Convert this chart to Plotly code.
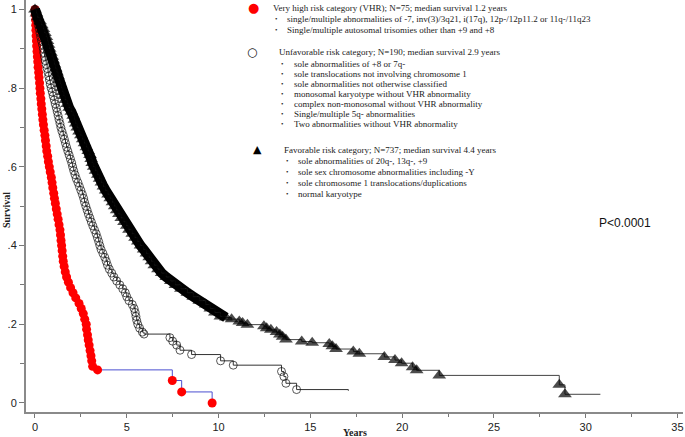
import plotly.graph_objects as go

# ---------------- data ----------------
# Very high risk (VHR), N=75
vhr_years = [0.0, 0.01, 0.03, 0.04, 0.05, 0.06, 0.08, 0.09, 0.11, 0.13, 0.15, 0.17, 0.20, 0.22, 0.25,
             0.27, 0.29, 0.32, 0.34, 0.37, 0.40, 0.43, 0.46, 0.50, 0.54, 0.57, 0.61, 0.64, 0.69, 0.73,
             0.78, 0.83, 0.89, 0.93, 0.97, 1.02, 1.06, 1.11, 1.16, 1.21, 1.26, 1.31, 1.36, 1.39, 1.42,
             1.45, 1.48, 1.51, 1.54, 1.59, 1.65, 1.72, 1.82, 1.94, 2.07, 2.22, 2.40, 2.52, 2.63, 2.71,
             2.79, 2.81, 2.86, 2.90, 2.95, 3.00, 3.05, 3.09, 3.14, 3.41, 7.48, 7.99, 9.65]
vhr_surv = [1.000, 0.987, 0.973, 0.960, 0.947, 0.933, 0.920, 0.907, 0.893, 0.880, 0.867, 0.853, 0.840,
            0.827, 0.813, 0.800, 0.787, 0.773, 0.760, 0.747, 0.733, 0.720, 0.707, 0.693, 0.680, 0.667,
            0.653, 0.640, 0.627, 0.613, 0.600, 0.587, 0.573, 0.560, 0.547, 0.533, 0.520, 0.507, 0.493,
            0.480, 0.467, 0.453, 0.440, 0.427, 0.413, 0.400, 0.387, 0.373, 0.360, 0.347, 0.333, 0.320,
            0.307, 0.293, 0.280, 0.267, 0.253, 0.240, 0.227, 0.213, 0.200, 0.187, 0.173, 0.160, 0.147,
            0.133, 0.120, 0.107, 0.093, 0.084, 0.057, 0.028, 0.000]

# Unfavorable, N=190
unf_years = [0.0, 0.05, 0.10, 0.14, 0.18, 0.23, 0.27, 0.31, 0.36, 0.41, 0.45, 0.48, 0.52, 0.56, 0.61,
             0.66, 0.71, 0.75, 0.79, 0.83, 0.88, 0.94, 0.99, 1.05, 1.10, 1.16, 1.21, 1.26, 1.31, 1.36,
             1.41, 1.47, 1.54, 1.60, 1.66, 1.72, 1.79, 1.86, 1.93, 2.00, 2.05, 2.11, 2.18, 2.25, 2.34,
             2.42, 2.50, 2.58, 2.65, 2.70, 2.77, 2.84, 2.91, 2.99, 3.07, 3.15, 3.24, 3.33, 3.40, 3.47,
             3.53, 3.60, 3.70, 3.80, 3.88, 3.95, 4.05, 4.18, 4.30, 4.45, 4.62, 4.78, 4.92, 5.00, 5.12,
             5.30, 5.40, 5.46, 5.50, 5.54, 5.60, 5.70, 5.85, 5.94,
             7.35, 7.50, 7.72, 7.90, 8.53, 10.11, 10.80, 13.43, 13.56, 13.67, 14.25, 17.07]
unf_surv = [1.00, 0.99, 0.98, 0.97, 0.96, 0.95, 0.94, 0.93, 0.92, 0.91, 0.90, 0.89, 0.88, 0.87, 0.86,
            0.85, 0.84, 0.83, 0.82, 0.81, 0.80, 0.79, 0.78, 0.77, 0.76, 0.75, 0.74, 0.73, 0.72, 0.71,
            0.70, 0.69, 0.68, 0.67, 0.66, 0.65, 0.64, 0.63, 0.62, 0.61, 0.60, 0.59, 0.58, 0.57, 0.56,
            0.55, 0.54, 0.53, 0.52, 0.51, 0.50, 0.49, 0.48, 0.47, 0.46, 0.45, 0.44, 0.43, 0.42, 0.41,
            0.40, 0.39, 0.38, 0.37, 0.36, 0.35, 0.34, 0.33, 0.32, 0.31, 0.30, 0.29, 0.28, 0.27, 0.26,
            0.25, 0.24, 0.23, 0.22, 0.21, 0.20, 0.19, 0.18, 0.175,
            0.166, 0.157, 0.147, 0.134, 0.123, 0.107, 0.096, 0.080, 0.067, 0.050, 0.034, 0.031]

# Favorable, N=737
fav_years = [0.0, 0.08, 0.15, 0.28, 0.37, 0.46, 0.54, 0.62, 0.68, 0.74, 0.80, 0.87, 0.94, 1.00, 1.06,
             1.13, 1.20, 1.26, 1.32, 1.39, 1.45, 1.52, 1.58, 1.65, 1.76, 1.86, 1.98, 2.08, 2.15, 2.22,
             2.30, 2.40, 2.50, 2.60, 2.70, 2.80, 2.90, 3.00, 3.06, 3.12, 3.20, 3.30, 3.42, 3.52, 3.62,
             3.73, 3.85, 3.98, 4.10, 4.22, 4.34, 4.45, 4.57, 4.70, 4.85, 5.00, 5.12, 5.30, 5.45, 5.60,
             5.75, 5.92, 6.07, 6.22, 6.35, 6.50, 6.70, 6.90, 7.15, 7.40, 7.65, 7.95, 8.30, 8.62, 8.95,
             9.30, 9.55, 9.80, 10.10, 10.40, 10.71, 11.13, 11.31, 11.57, 12.47, 12.62, 12.85, 13.16,
             13.34, 13.49, 13.67, 14.53, 15.10, 16.03, 16.20, 16.40, 17.34, 17.67, 19.03, 19.61, 19.97,
             20.57, 20.79, 22.02, 28.56, 28.87, 30.80]
fav_surv = [1.00, 0.99, 0.98, 0.97, 0.96, 0.95, 0.94, 0.93, 0.92, 0.91, 0.90, 0.89, 0.88, 0.87, 0.86,
            0.85, 0.84, 0.83, 0.82, 0.81, 0.80, 0.79, 0.78, 0.77, 0.76, 0.75, 0.74, 0.73, 0.72, 0.71,
            0.70, 0.69, 0.68, 0.67, 0.66, 0.65, 0.64, 0.63, 0.62, 0.61, 0.60, 0.59, 0.58, 0.57, 0.56,
            0.55, 0.54, 0.53, 0.52, 0.51, 0.50, 0.49, 0.48, 0.47, 0.46, 0.45, 0.44, 0.43, 0.42, 0.41,
            0.40, 0.39, 0.38, 0.37, 0.36, 0.35, 0.34, 0.33, 0.32, 0.31, 0.30, 0.29, 0.28, 0.27, 0.26,
            0.25, 0.24, 0.23, 0.22, 0.217, 0.213, 0.207, 0.203, 0.199, 0.195, 0.190, 0.186, 0.180,
            0.174, 0.168, 0.161, 0.156, 0.153, 0.150, 0.144, 0.137, 0.131, 0.125, 0.117, 0.109, 0.101,
            0.091, 0.083, 0.070, 0.046, 0.022, 0.022]

x_ticks = [0, 5, 10, 15, 20, 25, 30, 35]
y_tickvals = [0, 0.2, 0.4, 0.6, 0.8, 1.0]
y_ticktext = ["0", ".2", ".4", ".6", ".8", "1"]

vhr_title = "Very high risk category (VHR); N=75; median survival 1.2 years"
vhr_items = ["single/multiple abnormalities of -7, inv(3)/3q21, i(17q), 12p-/12p11.2 or 11q-/11q23",
             "Single/multiple autosomal trisomies other than +9 and +8"]
unf_title = "Unfavorable risk category; N=190; median survival 2.9 years"
unf_items = ["sole abnormalities of +8 or 7q-",
             "sole translocations not involving chromosome 1",
             "sole abnormalities not otherwise classified",
             "monosomal karyotype without VHR abnormality",
             "complex non-monosomal without VHR abnormality",
             "Single/multiple 5q- abnormalities",
             "Two abnormalities without VHR abnormality"]
fav_title = "Favorable risk category; N=737; median survival 4.4 years"
fav_items = ["sole abnormalities of 20q-, 13q-, +9",
             "sole sex chromosome abnormalities including -Y",
             "sole chromosome 1 translocations/duplications",
             "normal karyotype"]
p_text = "P<0.0001"

# ---------------- figure ----------------
W, H = 685, 437
ML, MR, MT, MB = 26, 2, 0, 25
PW, PH = W - ML - MR, H - MT - MB

def pxx(p):
    return (p - ML) / PW

def pxy(p):
    return (H - MB - p) / PH

fig = go.Figure()

fig.add_trace(go.Scatter(x=vhr_years, y=vhr_surv, mode="lines+markers", line_shape="hv",
                         line=dict(color="#4b4fd0", width=1),
                         marker=dict(symbol="circle", size=9, color="#ff0000", line=dict(width=0)),
                         showlegend=False))

unf_sizes = [8] * (len(unf_years) - 1) + [0]
fig.add_trace(go.Scatter(x=unf_years, y=unf_surv, mode="lines+markers", line_shape="hv",
                         line=dict(color="#333333", width=1),
                         marker=dict(symbol="circle-open", size=unf_sizes, color="#111111",
                                     line=dict(width=1, color="#111111")),
                         showlegend=False))

# dense part of the favourable curve: the overlapping triangles form a solid band
n_dense = fav_years.index(10.40) + 1
fig.add_trace(go.Scatter(x=fav_years[:n_dense], y=fav_surv[:n_dense], mode="lines",
                         line=dict(color="#000000", width=10), hoverinfo="skip",
                         showlegend=False))

fav_sizes = [12] * (len(fav_years) - 1) + [0]
fig.add_trace(go.Scatter(x=fav_years, y=fav_surv, mode="lines+markers", line_shape="hv",
                         line=dict(color="#444444", width=1),
                         marker=dict(symbol="triangle-up", size=fav_sizes, color="#000000",
                                     line=dict(width=0)),
                         showlegend=False))

serif = "Liberation Serif, Times New Roman, serif"
sans = "Liberation Sans, Arial, sans-serif"
txtcol = "#222222"
fs = 9

ann = []

def text_at(x, y, s, size=fs, family=serif, color=txtcol, anchor="left"):
    ann.append(dict(x=pxx(x), y=pxy(y), xref="paper", yref="paper", text=s, showarrow=False,
                    xanchor=anchor, yanchor="middle", font=dict(family=family, size=size, color=color)))

def block(sym, sym_color, sym_size, sx, title, tx, ty, items, bx, btx, ys):
    ann.append(dict(x=pxx(sx), y=pxy(ty), xref="paper", yref="paper", text=sym, showarrow=False,
                    xanchor="center", yanchor="middle",
                    font=dict(family="DejaVu Sans", size=sym_size, color=sym_color)))
    text_at(tx, ty, title)
    for s, y in zip(items, ys):
        text_at(bx, y, "\u2022", size=7)
        text_at(btx, y, s)

block("\u25cf", "#ff0000", 13, 253, vhr_title, 271, 8, vhr_items, 273, 285, [19, 30])
block("\u25cb", "#111111", 12, 252, unf_title, 277, 52, unf_items, 279, 292,
      [64, 74, 84, 94, 104, 114, 124])
block("\u25b2", "#000000", 11, 257, fav_title, 282, 150, fav_items, 284, 296, [161, 172, 183, 194])

text_at(597, 223, p_text, size=12, family=sans, color="#111111")

# axis titles
ann.append(dict(x=pxx(6), y=pxy(210), xref="paper", yref="paper", text="<b>Survival</b>",
                showarrow=False, textangle=-90, xanchor="center", yanchor="middle",
                font=dict(family=serif, size=10, color=txtcol)))
ann.append(dict(x=pxx(355), y=pxy(432), xref="paper", yref="paper", text="<b>Years</b>",
                showarrow=False, xanchor="center", yanchor="middle",
                font=dict(family=serif, size=10, color=txtcol)))

fig.update_layout(
    width=W, height=H,
    margin=dict(l=ML, r=MR, t=MT, b=MB),
    paper_bgcolor="white", plot_bgcolor="white",
    annotations=ann,
    showlegend=False,
    hovermode=False,
    xaxis=dict(range=[-0.49, 35.3], tickvals=x_ticks, showgrid=False, zeroline=False,
               showline=True, linecolor="#8a8a8a", linewidth=2,
               ticks="outside", ticklen=4, tickcolor="#777777", tickwidth=1,
               minor=dict(dtick=2.5, tick0=0, ticks="outside", ticklen=3, tickcolor="#777777"),
               tickfont=dict(family=sans, size=11, color=txtcol)),
    yaxis=dict(range=[-0.023, 1.024], tickvals=y_tickvals, ticktext=y_ticktext, showgrid=False,
               zeroline=False, showline=True, linecolor="#8a8a8a", linewidth=2,
               ticks="outside", ticklen=5, tickcolor="#777777", tickwidth=1,
               minor=dict(dtick=0.1, tick0=0, ticks="outside", ticklen=4, tickcolor="#777777"),
               tickfont=dict(family=sans, size=11, color=txtcol)),
)

fig.write_html("out.html", config={"displayModeBar": False},
               post_script="document.body.style.margin='0';")
